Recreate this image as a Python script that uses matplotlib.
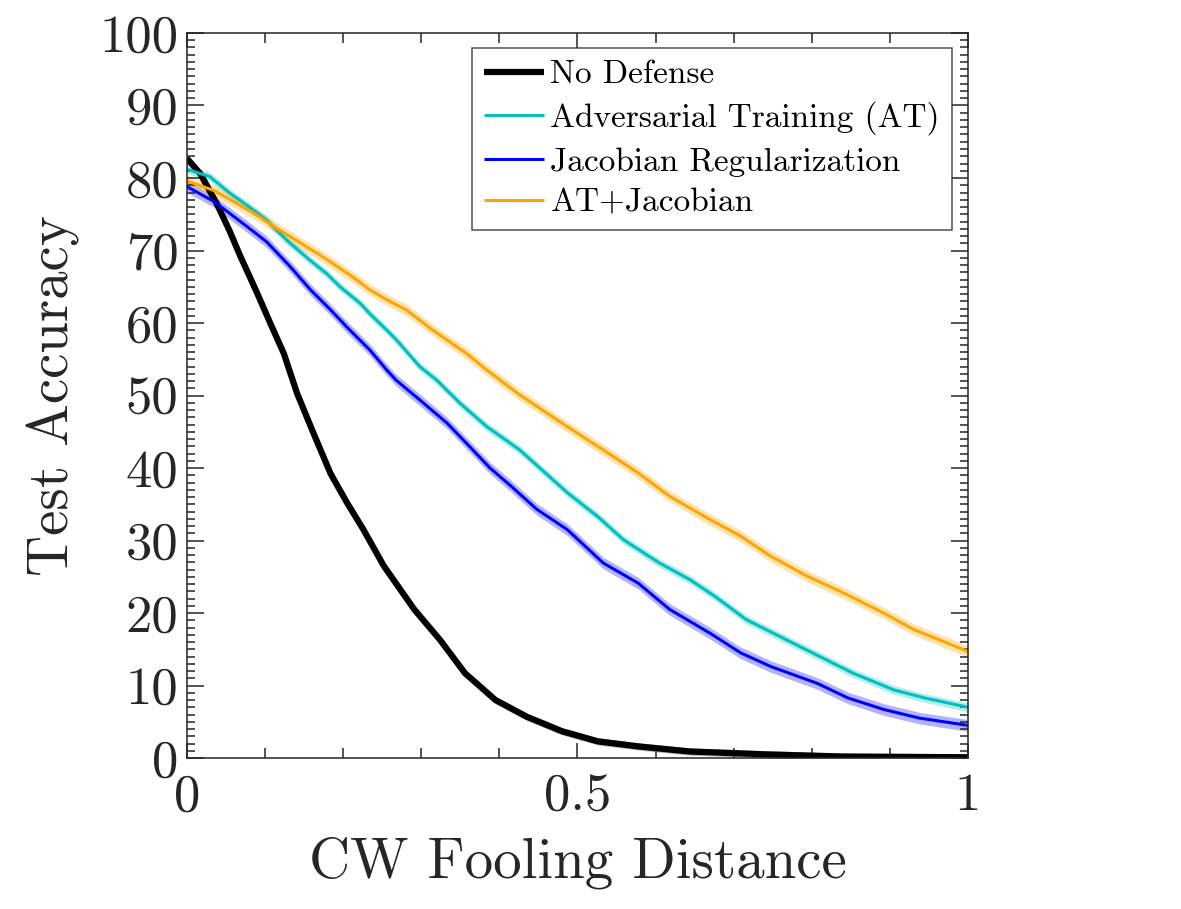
import numpy as np
import matplotlib
matplotlib.use('Agg')
from matplotlib import pyplot as plt
from matplotlib.ticker import MultipleLocator

plt.rcParams['font.family'] = ['cmr10', 'DejaVu Serif']
plt.rcParams['mathtext.fontset'] = 'cm'
plt.rcParams['axes.formatter.use_mathtext'] = True

# values
nodef_x = [0.0, 0.017, 0.038, 0.055, 0.068, 0.090, 0.107, 0.124, 0.141, 0.162, 0.184,
           0.205, 0.226, 0.252, 0.291, 0.324, 0.356, 0.395, 0.435, 0.480, 0.526,
           0.578, 0.644, 0.742, 0.840, 1.0]
nodef_y = [82.7, 80.6, 76.5, 72.6, 69.3, 64.1, 59.9, 55.8, 50.3, 44.8, 39.2,
           35.2, 31.5, 26.5, 20.5, 16.3, 11.7, 8.0, 5.7, 3.7, 2.3,
           1.6, 0.9, 0.5, 0.2, 0.1]

at_x = [0.0, 0.029, 0.055, 0.076, 0.102, 0.128, 0.157, 0.179, 0.196, 0.222, 0.234,
        0.256, 0.268, 0.298, 0.320, 0.350, 0.384, 0.426, 0.487, 0.526, 0.559,
        0.605, 0.644, 0.676, 0.716, 0.775, 0.814, 0.853, 0.905, 0.944, 1.0]
at_y = [81.2, 80.2, 77.9, 76.3, 74.2, 71.4, 68.7, 66.8, 65.0, 62.7, 61.3,
        59.0, 57.7, 54.0, 52.1, 48.9, 45.7, 42.5, 36.6, 33.3, 30.1,
        26.9, 24.6, 22.3, 19.1, 15.9, 13.8, 11.7, 9.4, 8.3, 7.0]

jac_x = [0.0, 0.034, 0.055, 0.077, 0.102, 0.132, 0.158, 0.184, 0.206, 0.234, 0.256,
         0.268, 0.298, 0.333, 0.358, 0.388, 0.415, 0.448, 0.487, 0.533, 0.578,
         0.618, 0.670, 0.709, 0.748, 0.807, 0.846, 0.892, 0.938, 1.0]
jac_y = [78.8, 76.8, 75.1, 73.3, 71.2, 67.8, 64.6, 61.8, 59.3, 56.3, 53.5,
         52.1, 49.4, 46.2, 43.4, 40.0, 37.5, 34.3, 31.5, 26.9, 24.1,
         20.5, 17.2, 14.5, 12.6, 10.3, 8.3, 6.7, 5.5, 4.5]

atjac_x = [0.0, 0.034, 0.064, 0.089, 0.119, 0.170, 0.213, 0.234, 0.256, 0.281, 0.315,
           0.358, 0.384, 0.426, 0.487, 0.533, 0.578, 0.618, 0.663, 0.709, 0.748,
           0.794, 0.840, 0.892, 0.931, 1.0]
atjac_y = [79.6, 78.3, 76.5, 74.9, 72.8, 69.4, 66.3, 64.6, 63.2, 61.8, 59.0,
           55.8, 53.5, 50.1, 45.7, 42.5, 39.3, 36.1, 33.3, 30.6, 27.8,
           25.1, 22.8, 20.0, 17.7, 14.7]

# half width of the shaded band around each curve
nodef_err = 0.5
at_err = 0.6
jac_err = 0.8
atjac_err = 0.8

labels = ['No Defense', 'Adversarial Training (AT)', 'Jacobian Regularization', 'AT+Jacobian']
colors = ['black', '#00BFBF', '#0000FF', '#FFA500']

fig = plt.figure(figsize=(11.81, 9.09), dpi=100)
ax = fig.add_axes([0.1583, 0.1661, 0.8196 - 0.1583, 0.9637 - 0.1661])

series = [(nodef_x, nodef_y, nodef_err, 4.5),
          (at_x, at_y, at_err, 2.2),
          (jac_x, jac_y, jac_err, 2.2),
          (atjac_x, atjac_y, atjac_err, 2.2)]

for (xs, ys, err, lw), lab, col in zip(series, labels, colors):
    xs = np.array(xs)
    ys = np.array(ys)
    ax.fill_between(xs, ys - err, ys + err, color=col, alpha=0.3, linewidth=0)
    ax.plot(xs, ys, color=col, linewidth=lw, label=lab,
            solid_joinstyle='round', solid_capstyle='butt')

ax.set_xlim(0, 1)
ax.set_ylim(0, 100)
ax.set_xticks([0, 0.5, 1])
ax.set_xticklabels(['0', '0.5', '1'])
ax.set_yticks(np.arange(0, 101, 10))
ax.set_yticklabels([str(v) for v in range(0, 101, 10)])
ax.xaxis.set_minor_locator(MultipleLocator(0.1))
ax.yaxis.set_minor_locator(MultipleLocator(1))

dark = '#262626'
ax.tick_params(which='both', direction='in', top=True, right=True, colors=dark,
               labelsize=38, width=1.1)
ax.tick_params(axis='x', which='major', length=11, pad=11)
ax.tick_params(axis='x', which='minor', length=7)
ax.tick_params(axis='y', which='major', length=12, pad=6)
ax.tick_params(axis='y', which='minor', length=6)
for sp in ax.spines.values():
    sp.set_color(dark)
    sp.set_linewidth(1.1)

ax.set_xlabel('CW Fooling Distance', fontsize=41, color=dark, labelpad=12)
ax.set_ylabel('Test Accuracy', fontsize=41, color=dark, labelpad=14)

leg = ax.legend(loc='upper right', bbox_to_anchor=(0.979, 0.979), fontsize=24,
                frameon=True, fancybox=False, handlelength=1.8, handletextpad=0.2,
                borderpad=0.35, labelspacing=0.36, borderaxespad=0)
leg.get_frame().set_edgecolor(dark)
leg.get_frame().set_linewidth(1.1)

fig.savefig('out.png', dpi=100)
